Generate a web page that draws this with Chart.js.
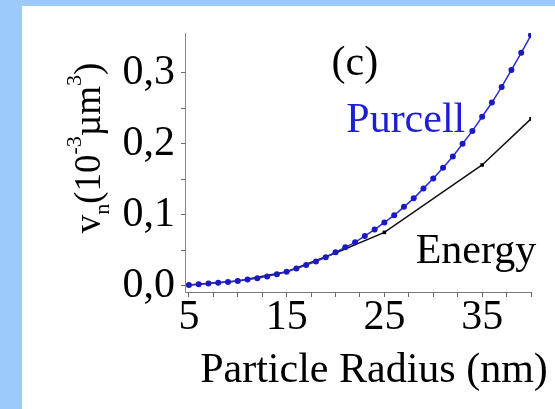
<!DOCTYPE html>
<html>
<head>
<meta charset="utf-8">
<script src="https://cdn.jsdelivr.net/npm/chart.js@4/dist/chart.umd.min.js"></script>
<style>
  html, body { margin: 0; padding: 0; background: #fff; }
  #wrap { position: absolute; left: 0; top: 0; width: 555px; height: 409px; }
  .warm { position: absolute; left: -1000px; top: 0; font: 20px "Liberation Serif"; }
</style>
</head>
<body>
<span class="warm">Particle Radius 0,123 (nm) µ</span>
<div id="wrap"><canvas id="canvas" width="555" height="409"></canvas></div>
<script>
// values
var purcellRadius = [5,6,7,8,9,10,11,12,13,14,15,16,17,18,19,20,21,22,23,24,25,26,27,28,29,30,31,32,33,34,35,36,37,38,39,40];
var purcellVolume = [0.001,0.002,0.003,0.004,0.005,0.0065,0.0085,0.0105,0.013,0.016,0.0195,0.024,0.029,0.034,0.040,0.047,0.054,0.061,0.070,0.079,0.089,0.099,0.111,0.123,0.137,0.151,0.166,0.182,0.200,0.218,0.238,0.258,0.280,0.304,0.328,0.353];
var energyRadius = [5,10,15,20,25,35,40];
var energyVolume = [0.001,0.0065,0.0195,0.046,0.075,0.170,0.235];

var xTicks = [5,7.5,10,12.5,15,17.5,20,22.5,25,27.5,30,32.5,35,37.5,40];
var xTickLabels = ['5','','','','15','','','','25','','','','35','',''];
var yTicks = [0,0.05,0.1,0.15,0.2,0.25,0.3];
var yTickLabels = ['0,0','','0,1','','0,2','','0,3'];

var serif = '"Liberation Serif", "DejaVu Serif", "Times New Roman", serif';

function pairs(xs, ys) {
    var out = [];
    for (var i = 0; i < xs.length; i++) out.push({x: xs[i], y: ys[i]});
    return out;
}

// blue frame round the white sheet
var framePlugin = {
    id: 'frame',
    beforeDraw: function(chart) {
        var ctx = chart.ctx;
        ctx.save();
        ctx.fillStyle = '#9ccbfb';
        ctx.fillRect(0, 0, chart.width, chart.height);
        ctx.fillStyle = '#ffffff';
        ctx.fillRect(22, 6, chart.width - 22, chart.height - 6);
        ctx.restore();
    }
};

// axis titles (with sub/superscripts) and the in-plot labels
var textPlugin = {
    id: 'texts',
    afterDraw: function(chart) {
        var ctx = chart.ctx;
        var xs = chart.scales.x, ys = chart.scales.y;
        ctx.save();
        ctx.textBaseline = 'alphabetic';

        ctx.font = '42px ' + serif;
        ctx.fillStyle = '#000';
        ctx.textAlign = 'left';
        ctx.fillText('(c)', xs.getPixelForValue(19.6), ys.getPixelForValue(0.297));
        ctx.fillText('Energy', xs.getPixelForValue(28.2), ys.getPixelForValue(0.032));
        ctx.fillStyle = '#1e1ed2';
        ctx.fillText('Purcell', xs.getPixelForValue(21.1), ys.getPixelForValue(0.217));

        // x title
        ctx.fillStyle = '#000';
        ctx.textAlign = 'center';
        ctx.fillText('Particle Radius (nm)', 374, 382);

        // y title, rotated
        var parts = [['v', 0, 37], ['n', 9, 22], ['(10', 0, 37], ['-3', -19, 22], ['\u00b5m', 0, 37], ['3', -19, 22], [')', 0, 37]];
        var total = 0;
        parts.forEach(function(p) {
            ctx.font = p[2] + 'px ' + serif;
            p.push(ctx.measureText(p[0]).width);
            total += p[3];
        });
        ctx.translate(100, 148);
        ctx.rotate(-Math.PI / 2);
        ctx.textAlign = 'left';
        var pos = -total / 2;
        parts.forEach(function(p) {
            ctx.font = p[2] + 'px ' + serif;
            ctx.fillText(p[0], pos, p[1]);
            pos += p[3];
        });
        ctx.restore();
    }
};

function drawChart() {
    var ctx = document.getElementById('canvas').getContext('2d');
    window.myChart = new Chart(ctx, {
        type: 'line',
        data: {
            datasets: [{
                label: 'Purcell',
                data: pairs(purcellRadius, purcellVolume),
                borderColor: '#2b2bd9',
                borderWidth: 1.5,
                pointStyle: 'circle',
                pointRadius: 3,
                pointBackgroundColor: '#1a1ac0',
                pointBorderWidth: 0,
                tension: 0
            }, {
                label: 'Energy',
                data: pairs(energyRadius, energyVolume),
                borderColor: '#111',
                borderWidth: 1.5,
                pointStyle: 'rect',
                pointRadius: 2.5,
                pointBackgroundColor: '#000',
                pointBorderWidth: 0,
                tension: 0
            }]
        },
        options: {
            responsive: false,
            animation: false,
            layout: { padding: { left: 0, right: 24, top: 33, bottom: 0 } },
            plugins: { legend: { display: false }, tooltip: { enabled: false } },
            scales: {
                x: {
                    type: 'linear',
                    min: 4.6,
                    max: 40,
                    afterBuildTicks: function(scale) {
                        scale.ticks = xTicks.map(function(v) { return {value: v}; });
                    },
                    afterFit: function(scale) { scale.height = 117; },
                    ticks: {
                        autoSkip: false,
                        maxRotation: 0,
                        padding: 0,
                        color: '#000',
                        font: { family: serif, size: 42, lineHeight: 1 },
                        callback: function(value, index) { return xTickLabels[index]; }
                    },
                    grid: { drawOnChartArea: false, drawTicks: true, tickLength: 5, tickColor: '#666' },
                    border: { color: '#777', width: 1 }
                },
                y: {
                    type: 'linear',
                    min: -0.009,
                    max: 0.356,
                    afterBuildTicks: function(scale) {
                        scale.ticks = yTicks.map(function(v) { return {value: v}; });
                    },
                    afterFit: function(scale) { scale.width = 185; },
                    ticks: {
                        autoSkip: false,
                        padding: 6,
                        color: '#000',
                        font: { family: serif, size: 42, lineHeight: 1 },
                        callback: function(value, index) { return yTickLabels[index]; }
                    },
                    grid: { drawOnChartArea: false, drawTicks: true, tickLength: 4, tickColor: '#666' },
                    border: { color: '#888', width: 1 }
                }
            }
        },
        plugins: [framePlugin, textPlugin]
    });
}

if (document.fonts && document.fonts.load) {
    document.fonts.load('42px "Liberation Serif"').then(drawChart, drawChart);
} else {
    drawChart();
}
</script>
</body>
</html>
